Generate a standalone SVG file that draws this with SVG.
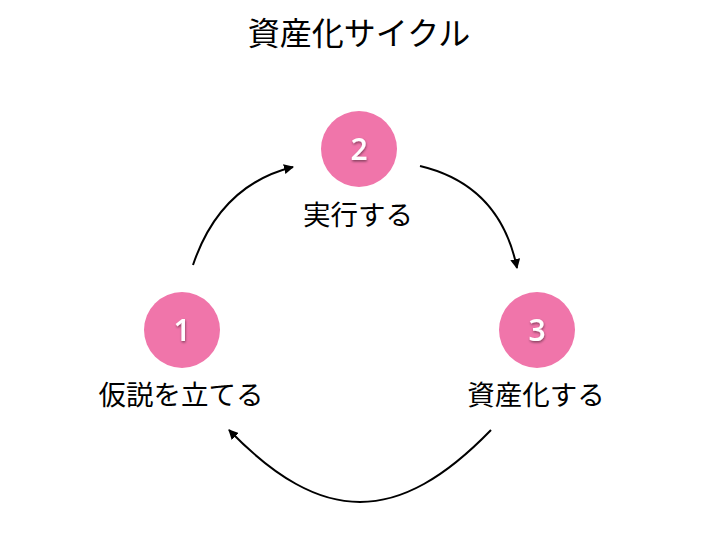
<svg xmlns="http://www.w3.org/2000/svg" width="720" height="540" viewBox="0 0 720 540">
<defs>
<marker id="ah" viewBox="0 0 10 10" refX="9" refY="5" markerWidth="10" markerHeight="10" markerUnits="userSpaceOnUse" orient="auto">
<path d="M0,0 L10,5 L0,10 z" fill="#000"/>
</marker>
<filter id="sh" x="-50%" y="-50%" width="200%" height="200%">
<feDropShadow dx="0.5" dy="1.5" stdDeviation="0.8" flood-color="#000" flood-opacity="0.45"/>
</filter>
</defs>
<style>
.t{font-family:"Noto Sans CJK JP","Noto Sans",sans-serif;fill:#000;text-anchor:middle}
.c{fill:#F075AA}
.n{font-family:"Open Sans","DejaVu Sans",sans-serif;font-weight:600;font-size:30px;fill:#fff;text-anchor:middle}
.a{fill:none;stroke:#000;stroke-width:2;marker-end:url(#ah)}
</style>
<rect width="720" height="540" fill="#fff"/>
<text class="t" x="359" y="45" font-size="32">資産化サイクル</text>
<g id="node1">
<circle class="c" cx="182" cy="330" r="38"/>
<text class="n" x="182" y="341" filter="url(#sh)">1</text>
<text class="t" x="181" y="405" font-size="27.5">仮説を立てる</text>
</g>
<g id="node2">
<circle class="c" cx="359" cy="149" r="38"/>
<text class="n" x="359" y="160" filter="url(#sh)">2</text>
<text class="t" x="358" y="225" font-size="27.5">実行する</text>
</g>
<g id="node3">
<circle class="c" cx="537" cy="330" r="38"/>
<text class="n" x="537" y="341" filter="url(#sh)">3</text>
<text class="t" x="536" y="405" font-size="27.5">資産化する</text>
</g>
<g id="connectors">
<path class="a" d="M491,430 C398,526 322,526 229,430"/>
<path class="a" d="M193,265 Q220,185 293,167"/>
<path class="a" d="M420,166 Q500,185 517,268"/>
</g>
</svg>
